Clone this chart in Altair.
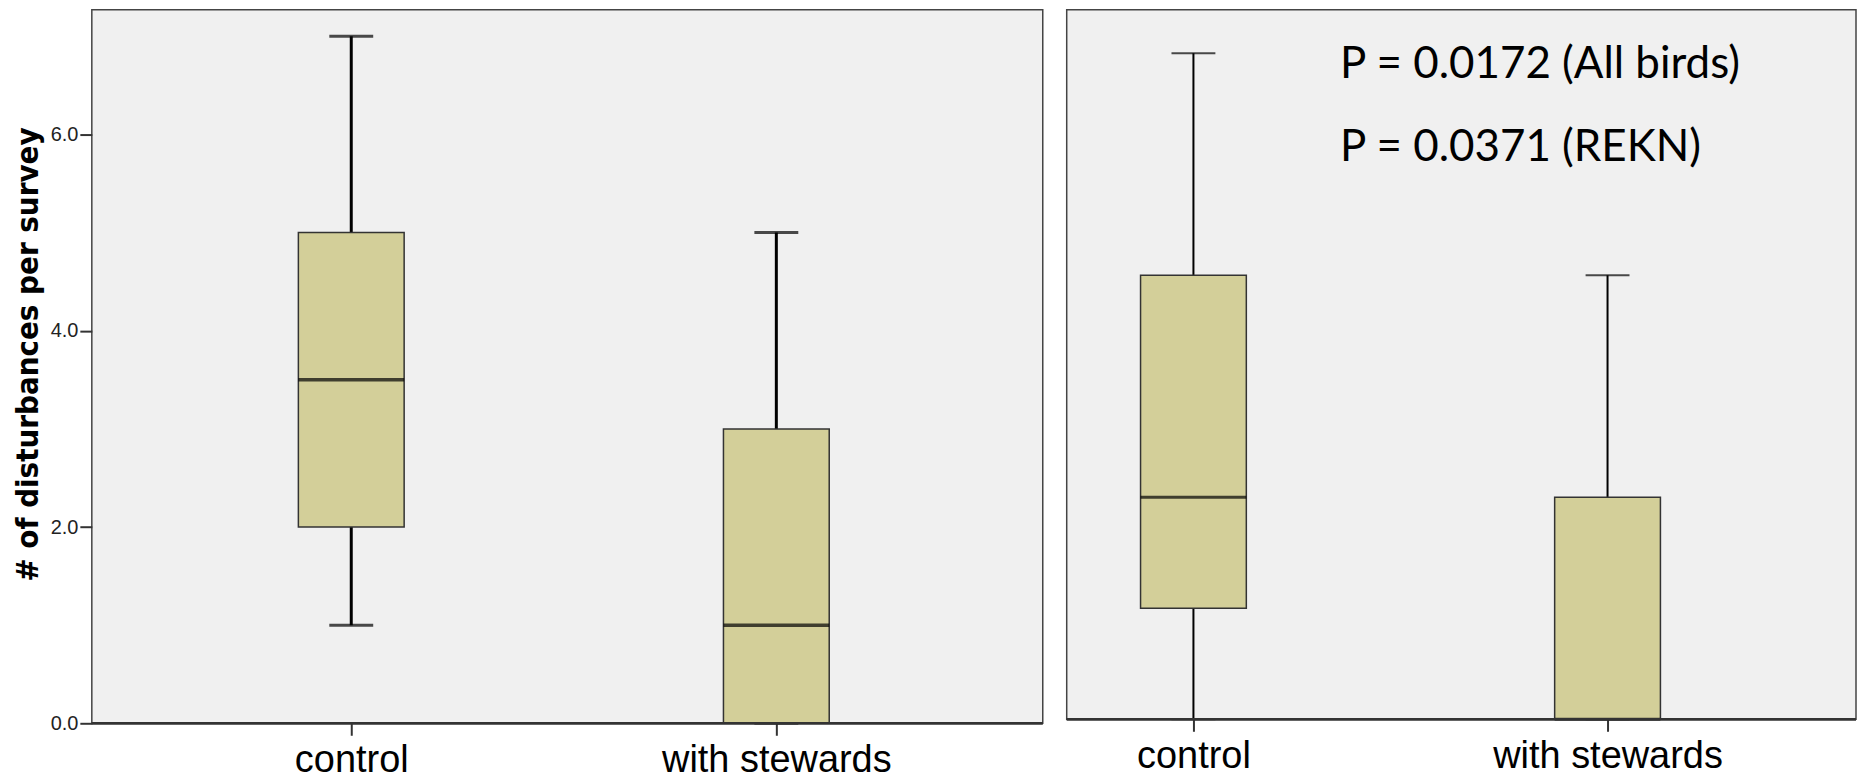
import altair as alt
import pandas as pd

categories = ["control", "with stewards"]

# Left panel (all birds)
left_min = [1.0, 0.0]
left_q1 = [2.0, 0.0]
left_median = [3.5, 1.0]
left_q3 = [5.0, 3.0]
left_max = [7.0, 5.0]

# Right panel (REKN), no axis shown
right_min = [0.0, 0.0]
right_q1 = [1.0, 0.0]
right_median = [2.0, 0.0]
right_q3 = [4.0, 2.0]
right_max = [6.0, 4.0]

y_ticks = [0, 2, 4, 6]
y_title = "# of disturbances per survey"
p_lines = ["P = 0.0172 (All birds)", "P = 0.0371 (REKN)"]

BOX_FILL = "#D3CF99"
BG = "#F0F0F0"


def make_df(mn, q1, med, q3, mx):
    return pd.DataFrame({"cat": categories, "min": mn, "q1": q1,
                         "median": med, "q3": q3, "max": mx})


def box_layers(df, xrange, ydomain, yaxis, w_whisk, w_med, w_box, width):
    x = alt.X("cat:N", sort=categories,
              scale=alt.Scale(type="point", range=xrange, padding=0),
              axis=alt.Axis(title=None, labelAngle=0, labelFont="Liberation Sans",
                            labelFontSize=38, labelColor="#000", labelPadding=6,
                            labelLimit=600,
                            tickSize=12, tickColor="#333", tickWidth=2,
                            domain=False))
    y_scale = alt.Scale(domain=ydomain, nice=False, zero=False)
    base = alt.Chart(df)
    whisk = base.mark_rule(color="#000", strokeWidth=w_whisk).encode(
        x=x, y=alt.Y("min:Q", scale=y_scale, axis=yaxis), y2="max:Q")
    cap_hi = base.mark_tick(color="#000", size=44, thickness=w_whisk).encode(
        x=x, y=alt.Y("max:Q", scale=y_scale))
    cap_lo = base.mark_tick(color="#000", size=44, thickness=w_whisk).encode(
        x=x, y=alt.Y("min:Q", scale=y_scale))
    box = base.mark_bar(fill=BOX_FILL, stroke="#333", strokeWidth=w_box, size=106).encode(
        x=x, y=alt.Y("q1:Q", scale=y_scale), y2="q3:Q")
    med = base.mark_tick(color="#000", size=106, thickness=w_med).encode(
        x=x, y=alt.Y("median:Q", scale=y_scale))
    baseline = base.mark_rule(color="#333", strokeWidth=2.5).encode(
        x=alt.value(0), x2=alt.value(width), y=alt.datum(0, scale=y_scale))
    return [whisk, cap_hi, cap_lo, box, med, baseline]


left_axis = alt.Axis(title=y_title, values=y_ticks, format=".1f", grid=False,
                     labelFont="Liberation Sans", labelFontSize=20, labelColor="#222",
                     labelPadding=2, tickSize=12, tickColor="#333", tickWidth=2,
                     domain=False,
                     titleFont="Liberation Sans Narrow, DejaVu Sans Condensed",
                     titleFontWeight="bold", titleFontSize=31, titleColor="#000",
                     titlePadding=6, titleY=345)

left = alt.layer(*box_layers(make_df(left_min, left_q1, left_median, left_q3, left_max),
                             [260, 686], [0, 7.27], left_axis, 3, 3.5, 1.5, 953)
                 ).properties(width=953, height=715)

right_layers = box_layers(make_df(right_min, right_q1, right_median, right_q3, right_max),
                          [127, 542], [0, 6.39], None, 2, 3, 1.5, 791)
ptext = alt.Chart(pd.DataFrame({"a": [0]})).mark_text(
    align="left", baseline="middle", font="Lato", fontSize=44, color="#000",
    lineHeight=84).encode(x=alt.value(274), y=alt.value(55), text=alt.value(p_lines))
right = alt.layer(*right_layers, ptext).properties(width=791, height=711)

chart = alt.hconcat(left, right, spacing=20).resolve_scale(
    x="independent", y="independent"
).properties(
    padding={"left": 3, "top": 0, "right": 0, "bottom": 0}, background="#FFFFFF"
).configure_view(
    stroke="#444", strokeWidth=1.5, fill=BG
)

chart.save("out.html", embed_options={"renderer": "svg", "actions": False})
